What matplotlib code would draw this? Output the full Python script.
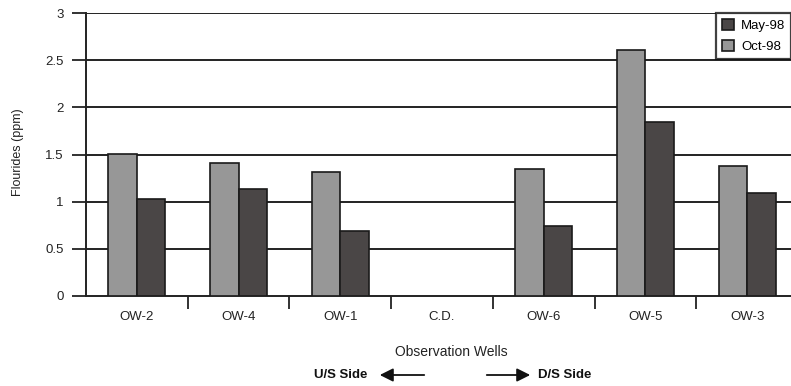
import matplotlib
matplotlib.use("Agg")
import matplotlib.pyplot as plt
import numpy as np

categories = ["OW-2", "OW-4", "OW-1", "C.D.", "OW-6", "OW-5", "OW-3"]
oct98 = [1.51, 1.41, 1.31, np.nan, 1.35, 2.61, 1.38]
may98 = [1.03, 1.13, 0.69, np.nan, 0.745, 1.84, 1.09]
yticks = [0, 0.5, 1, 1.5, 2, 2.5, 3]
ytick_labels = ["0", "0.5", "1", "1.5", "2", "2.5", "3"]

plt.rcParams['font.family'] = ['Liberation Sans', 'DejaVu Sans']

W, H = 791, 386
fig = plt.figure(figsize=(W / 100, H / 100), dpi=100)
ax = fig.add_axes([86 / W, (H - 296) / H, (798 - 86) / W, (296 - 13) / H])

x = np.arange(len(categories))
bw = 0.28
gray = "#979797"
dark = "#4a4646"
ax.bar(x - bw / 2, oct98, width=bw, color=gray, edgecolor="#1a1a1a", linewidth=1.2, zorder=3, label="Oct-98")
ax.bar(x + bw / 2, may98, width=bw, color=dark, edgecolor="#1a1a1a", linewidth=1.2, zorder=3, label="May-98")

ax.set_xlim(-0.5, 6.5)
ax.set_ylim(0, 3)
ax.set_yticks(yticks)
ax.set_yticklabels(ytick_labels, fontsize=9.5, color="#222222")
ax.set_xticks(x)
ax.set_xticklabels(categories, fontsize=9.5, color="#222222")
ax.set_xticks(np.arange(0.5, 6.0, 1.0), minor=True)
ax.tick_params(axis="x", which="major", length=0, pad=11)
ax.tick_params(axis="x", which="minor", length=9, width=1.3, direction="out", color="#222222")
ax.tick_params(axis="y", length=10, width=1.3, direction="out", pad=6, color="#222222")

for yv in yticks[1:]:
    ax.axhline(yv, color="#222222", linewidth=1.4, zorder=1)

for s in ["top", "right"]:
    ax.spines[s].set_visible(False)
ax.spines["left"].set_linewidth(1.4)
ax.spines["bottom"].set_linewidth(1.4)
ax.spines["left"].set_color("#222222")
ax.spines["bottom"].set_color("#222222")

handles, labels = ax.get_legend_handles_labels()
leg = fig.legend(handles[::-1], labels[::-1], loc="upper left",
                 bbox_to_anchor=(716 / W, 1 - 13 / H), fontsize=9.5,
                 frameon=True, fancybox=False, borderpad=0.45, handlelength=0.9,
                 handleheight=0.9, handletextpad=0.55, labelspacing=0.6, borderaxespad=0)
leg.get_frame().set_edgecolor("#111111")
leg.get_frame().set_linewidth(1.6)
leg.set_zorder(10)

fig.text(18 / W, 1 - 152 / H, "Flourides (ppm)", rotation=90, ha="center", va="center",
         fontsize=9, color="#222222")
fig.text(451 / W, 1 - 352 / H, "Observation Wells", ha="center", va="center",
         fontsize=10, color="#222222")
fig.text(367 / W, 1 - 375 / H, "U/S Side", ha="right", va="center",
         fontsize=9.5, fontweight="bold", color="#111111")
fig.text(538 / W, 1 - 375 / H, "D/S Side", ha="left", va="center",
         fontsize=9.5, fontweight="bold", color="#111111")

fig.patches.append(matplotlib.patches.FancyArrowPatch(
    (427 / W, 1 - 375 / H), (377 / W, 1 - 375 / H), transform=fig.transFigure,
    arrowstyle="-|>", mutation_scale=20, color="#111111", linewidth=1.3))
fig.patches.append(matplotlib.patches.FancyArrowPatch(
    (484 / W, 1 - 375 / H), (533 / W, 1 - 375 / H), transform=fig.transFigure,
    arrowstyle="-|>", mutation_scale=20, color="#111111", linewidth=1.3))

fig.savefig("out.png", dpi=100)
